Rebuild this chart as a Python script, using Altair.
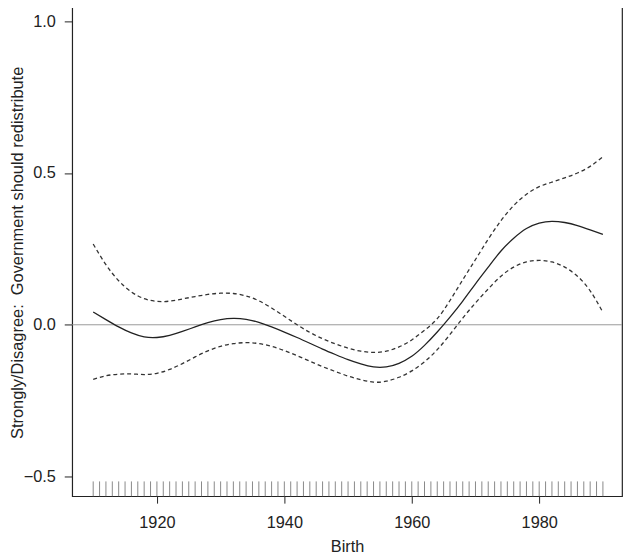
import altair as alt
import pandas as pd

years = [1910, 1912, 1914, 1916, 1918, 1920, 1922, 1924, 1926, 1928,
         1930, 1932, 1934, 1936, 1938, 1940, 1942, 1944, 1946, 1948,
         1950, 1952, 1954, 1956, 1958, 1960, 1962, 1964, 1966, 1968,
         1970, 1972, 1974, 1976, 1978, 1980, 1982, 1984, 1986, 1988, 1990]

fit = [0.042, 0.017, -0.007, -0.027, -0.040, -0.042, -0.035, -0.022, -0.007, 0.007,
       0.017, 0.021, 0.018, 0.008, -0.007, -0.024, -0.042, -0.061, -0.080, -0.098,
       -0.115, -0.129, -0.139, -0.139, -0.127, -0.104, -0.068, -0.024, 0.025, 0.078,
       0.135, 0.190, 0.243, 0.285, 0.317, 0.335, 0.341, 0.337, 0.327, 0.313, 0.298]

upper = [0.266, 0.198, 0.145, 0.108, 0.086, 0.077, 0.078, 0.085, 0.093, 0.100,
         0.104, 0.103, 0.095, 0.079, 0.055, 0.028, 0.000, -0.025, -0.046, -0.063,
         -0.077, -0.087, -0.091, -0.087, -0.073, -0.050, -0.018, 0.020, 0.080, 0.148,
         0.215, 0.282, 0.343, 0.393, 0.430, 0.455, 0.470, 0.484, 0.500, 0.522, 0.554]

lower = [-0.180, -0.168, -0.163, -0.162, -0.164, -0.160, -0.147, -0.128, -0.106, -0.086,
         -0.071, -0.062, -0.059, -0.062, -0.071, -0.085, -0.102, -0.120, -0.138, -0.154,
         -0.169, -0.181, -0.189, -0.186, -0.173, -0.152, -0.122, -0.082, -0.032, 0.022,
         0.072, 0.118, 0.160, 0.190, 0.207, 0.212, 0.207, 0.190, 0.160, 0.112, 0.041]

rug_years = list(range(1910, 1991))
x_ticks = [1920, 1940, 1960, 1980]
y_ticks = [-0.5, 0.0, 0.5, 1.0]

FONT = "Liberation Sans, Arial, Helvetica, sans-serif"
W, H = 557, 498

df = pd.DataFrame({"year": years, "fit": fit, "upper": upper, "lower": lower})
rug = pd.DataFrame({"year": rug_years})
zero = pd.DataFrame({"y": [0.0]})

xscale = alt.Scale(domain=[1906.7, 1993.0], nice=False, zero=False)
yscale = alt.Scale(domain=[-0.565, 1.055], nice=False, zero=False)

xaxis = alt.Axis(values=x_ticks, format="d", title="Birth", grid=False, domain=False,
                 tickSize=7, tickColor="#222", labelFont=FONT, labelFontSize=16.5,
                 labelColor="#222", labelPadding=12, titleFont=FONT, titleFontSize=16.5,
                 titleFontWeight="normal", titleColor="#222",
                 titleX=W / 2, titleY=51, titleAlign="center", titleBaseline="middle")
yaxis = alt.Axis(values=y_ticks, format=".1f",
                 title="Strongly/Disagree:\u00a0 Government should redistribute",
                 grid=False, domain=False, tickSize=8, tickColor="#222",
                 labelFont=FONT, labelFontSize=16.5, labelColor="#222", labelPadding=9,
                 titleFont=FONT, titleFontSize=16.6, titleFontWeight="normal",
                 titleColor="#222", titleAngle=-90, titleX=-55, titleY=H / 2 + 2,
                 titleAlign="center", titleBaseline="middle")

base = alt.Chart(df)

zline = alt.Chart(zero).mark_rule(color="#999999", strokeWidth=1).encode(
    y=alt.Y("y:Q", scale=yscale, axis=yaxis),
    x=alt.value(0), x2=alt.value(W))

center = base.mark_line(color="#222222", strokeWidth=1.3, interpolate="natural").encode(
    x=alt.X("year:Q", scale=xscale, axis=xaxis),
    y=alt.Y("fit:Q", scale=yscale, axis=yaxis))

up = base.mark_line(color="#333333", strokeWidth=1.3, strokeDash=[4, 3],
                    interpolate="natural").encode(
    x=alt.X("year:Q", scale=xscale, axis=xaxis),
    y=alt.Y("upper:Q", scale=yscale, axis=yaxis))

lo = base.mark_line(color="#333333", strokeWidth=1.3, strokeDash=[4, 3],
                    interpolate="natural").encode(
    x=alt.X("year:Q", scale=xscale, axis=xaxis),
    y=alt.Y("lower:Q", scale=yscale, axis=yaxis))

rugs = alt.Chart(rug).mark_rule(color="#888888", strokeWidth=1).encode(
    x=alt.X("year:Q", scale=xscale, axis=xaxis),
    y=alt.value(H), y2=alt.value(H - 15))

chart = alt.layer(zline, rugs, up, lo, center).properties(
    width=W, height=H,
    autosize=alt.AutoSizeParams(type="none"),
    padding={"left": 65, "top": -7, "right": 2, "bottom": 58},
    background="white",
).configure_view(stroke="#222222", strokeWidth=1.2)

chart.save("out.html", embed_options={"renderer": "svg", "actions": False})
